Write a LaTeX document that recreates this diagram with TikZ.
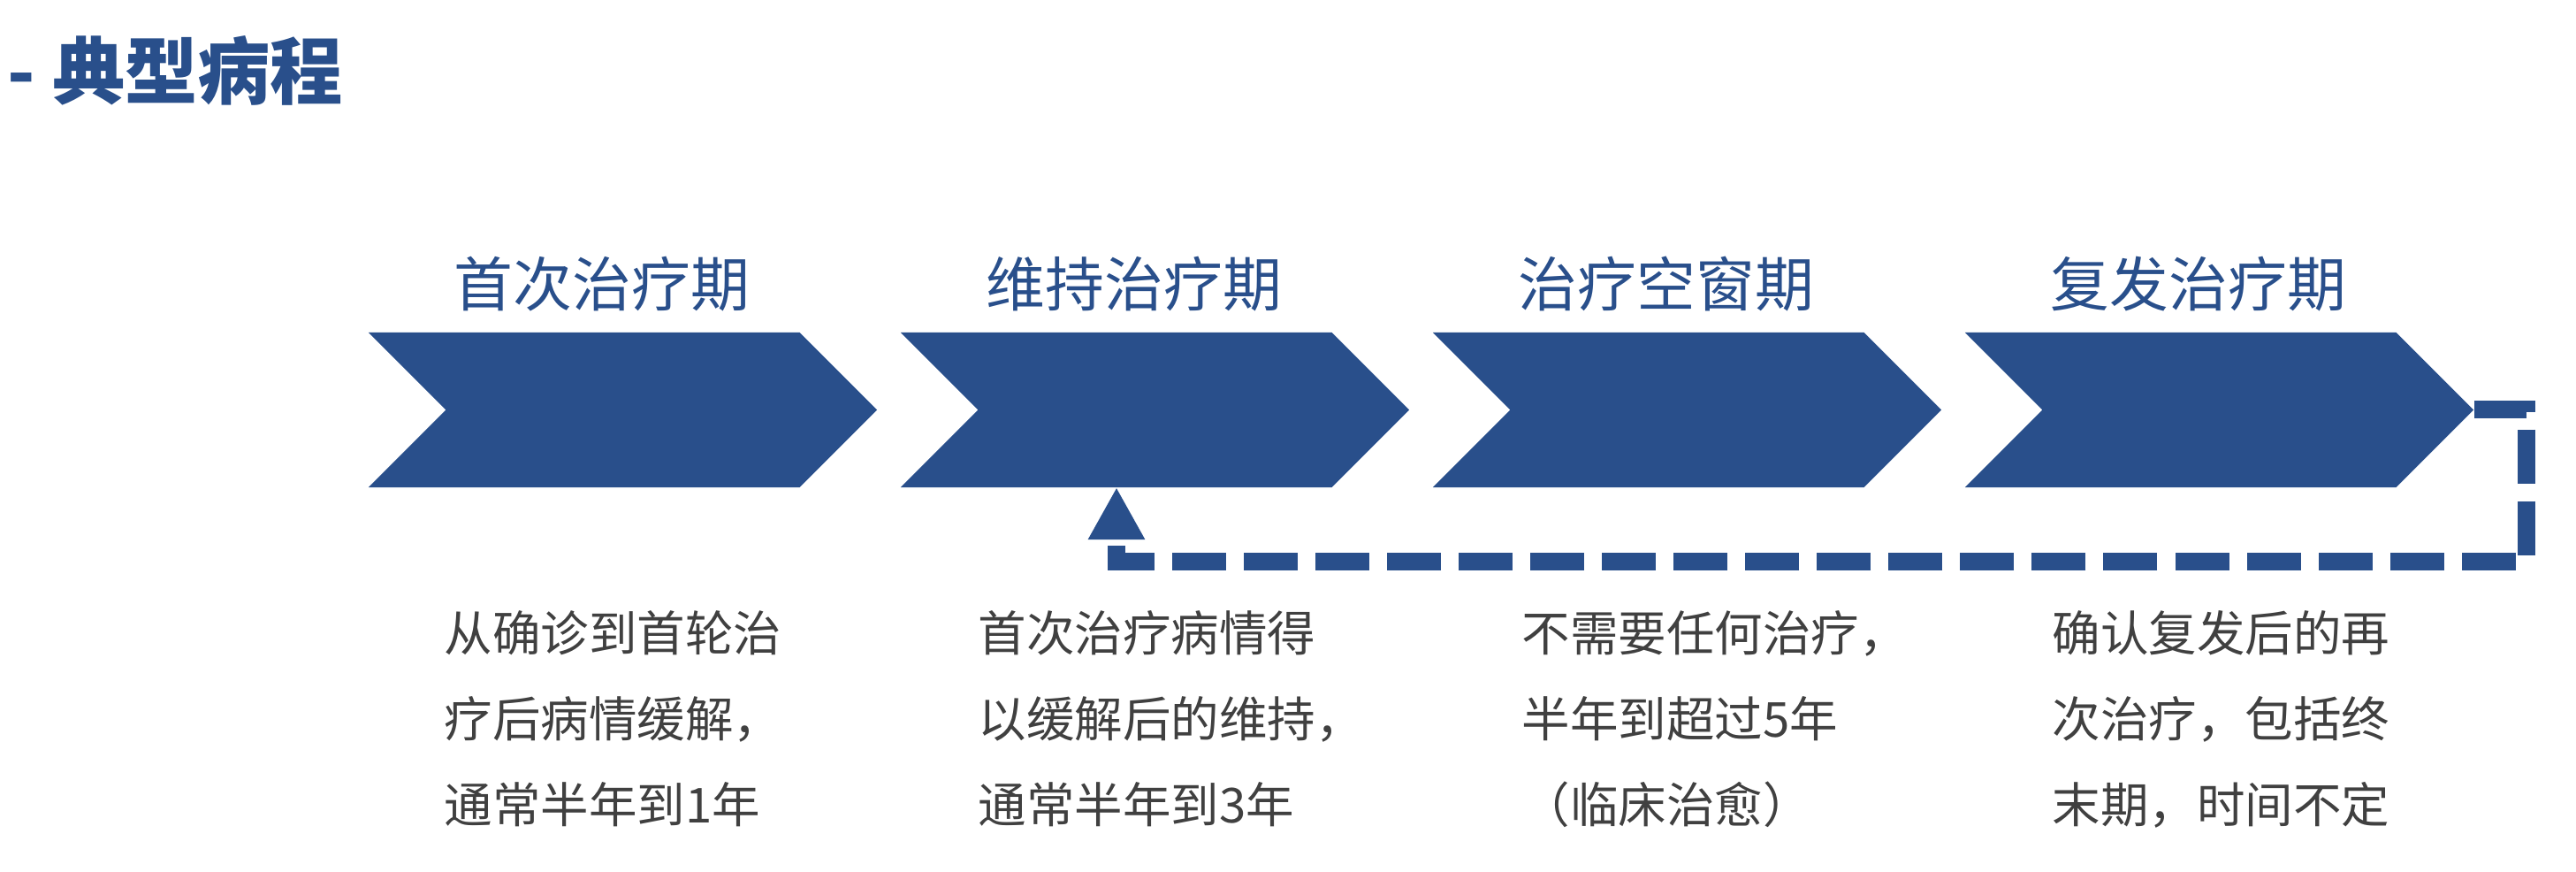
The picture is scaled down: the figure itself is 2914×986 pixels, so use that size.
\documentclass[tikz,border=0pt]{standalone}
\usepackage{fontspec}
\newfontfamily\cjk{Noto Sans CJK SC}
\usetikzlibrary{shapes.symbols,arrows.meta}
\definecolor{stageblue}{RGB}{41,79,139}
\definecolor{notegray}{RGB}{64,64,64}

\begin{document}
\begin{tikzpicture}[x=0.01cm,y=-0.01cm]
    \tikzstyle{stage}=[signal, signal to=east, signal from=west, fill=stageblue, minimum width=5.75cm, minimum height=1.75cm, inner sep=0pt]
    \tikzstyle{title}=[text=stageblue, font=\cjk\bfseries\fontsize{23.4pt}{23.4pt}\selectfont, anchor=base west, inner sep=0pt]
    \tikzstyle{head}=[text=stageblue, font=\cjk\fontsize{19pt}{19pt}\selectfont, anchor=base, inner sep=0pt]
    \tikzstyle{note}=[text=notegray, font=\cjk\fontsize{15.5pt}{27.7pt}\selectfont, align=left, anchor=base west, inner sep=0pt]
    \tikzstyle{relapse}=[draw=stageblue, line width=0.2cm, dash pattern=on 0.61cm off 0.2cm, -{Triangle[width=0.6cm,length=0.59cm]}]
    \useasboundingbox (0,0) rectangle (2914,986);
    \node[title] (title) at (8,112) {-~典型病程};
    \node[stage] (p1) at (704.5,463.5) {};
    \node[stage] (p2) at (1306.5,463.5) {};
    \node[stage] (p3) at (1908.5,463.5) {};
    \node[stage] (p4) at (2510.5,463.5) {};
    \node[head] (h1) at (681,347) {首次治疗期};
    \node[head] (h2) at (1283,347) {维持治疗期};
    \node[head] (h3) at (1885,347) {治疗空窗期};
    \node[head] (h4) at (2487,347) {复发治疗期};
    \node[note] (n1) at (502,931) {从确诊到首轮治\\疗后病情缓解，\\通常半年到1年};
    \node[note] (n2) at (1106,931) {首次治疗病情得\\以缓解后的维持，\\通常半年到3年};
    \node[note] (n3) at (1721,931) {不需要任何治疗，\\半年到超过5年\\（临床治愈）};
    \node[note] (n4) at (2321,931) {确认复发后的再\\次治疗，包括终\\末期，时间不定};
    \coordinate (turn) at (2858,635.5);
    \coordinate (back) at (1263,551);
    \draw[relapse] (p4.east) -| (turn) -| (back);
\end{tikzpicture}
\end{document}
